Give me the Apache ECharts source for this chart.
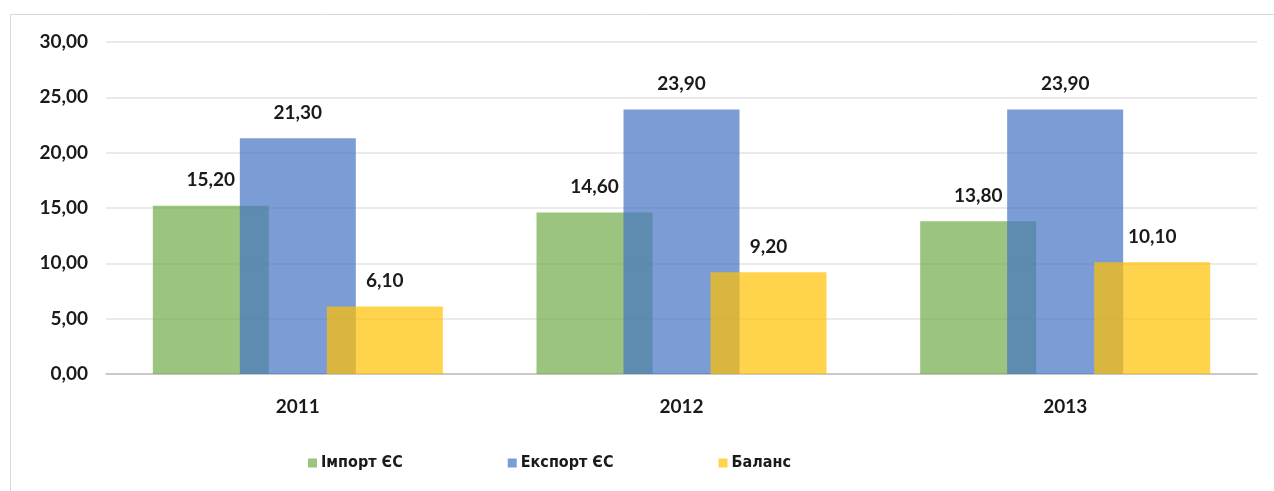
<!DOCTYPE html>
<html>
<head>
<meta charset="utf-8">
<script src="https://cdn.jsdelivr.net/npm/echarts@6/dist/echarts.min.js"></script>
<style>html,body{margin:0;padding:0;background:#fff;}#c{width:1274px;height:491px;}</style>
</head>
<body>
<div id="c"></div>
<script>
var categories = ['2011', '2012', '2013'];
var seriesNames = ['Імпорт ЄС', 'Експорт ЄС', 'Баланс'];
var importEU = [15.2, 14.6, 13.8];
var exportEU = [21.3, 23.9, 23.9];
var balance = [6.1, 9.2, 10.1];
var yTicks = { min: 0, max: 30, interval: 5 };

var fmt = function (v) { return Number(v).toFixed(2).replace('.', ','); };
var font = 'Lato';
var colors = ['rgba(112,173,71,0.7)', 'rgba(68,114,196,0.7)', 'rgba(255,192,0,0.7)'];
var dataSets = [importEU, exportEU, balance];

var chart = echarts.init(document.getElementById('c'));
chart.setOption({
  animation: false,
  textStyle: { fontFamily: font },
  graphic: [{
    type: 'rect', left: 8, top: 12, silent: true,
    shape: { width: 1300, height: 520 },
    style: { fill: 'none', stroke: '#d9d9d9', lineWidth: 1 }
  }],
  grid: { left: 106, right: 17, top: 42, bottom: 117, containLabel: false },
  legend: {
    left: 303, top: 450,
    itemWidth: 9, itemHeight: 9, itemGap: 105,
    icon: 'rect',
    textStyle: { fontFamily: '"DejaVu Sans Condensed", Lato, sans-serif', fontSize: 16, fontWeight: 'bold', color: '#1a1a1a', padding: [0, 0, 0, -1] },
    data: seriesNames
  },
  xAxis: {
    type: 'category', data: categories,
    axisLine: { lineStyle: { color: '#bfbfbf', width: 1.5 } },
    axisTick: { show: false },
    axisLabel: { fontFamily: font, fontSize: 19, fontWeight: 'bold', color: '#1a1a1a', margin: 23 }
  },
  yAxis: {
    type: 'value', min: yTicks.min, max: yTicks.max, interval: yTicks.interval,
    axisLine: { show: false }, axisTick: { show: false },
    splitLine: { lineStyle: { color: '#e3e3e3', width: 1.5 } },
    axisLabel: { fontFamily: font, fontSize: 19, fontWeight: 'bold', color: '#1a1a1a', margin: 18, formatter: fmt }
  },
  series: seriesNames.map(function (n, i) {
    return {
      name: n, type: 'bar', data: dataSets[i],
      barWidth: 116, barGap: '-25%',
      itemStyle: { color: colors[i] },
      label: {
        show: true, position: 'top', distance: 16,
        fontFamily: font, fontSize: 19, fontWeight: 'bold', color: '#1a1a1a',
        formatter: function (p) { return fmt(p.value); }
      }
    };
  })
});
</script>
</body>
</html>
